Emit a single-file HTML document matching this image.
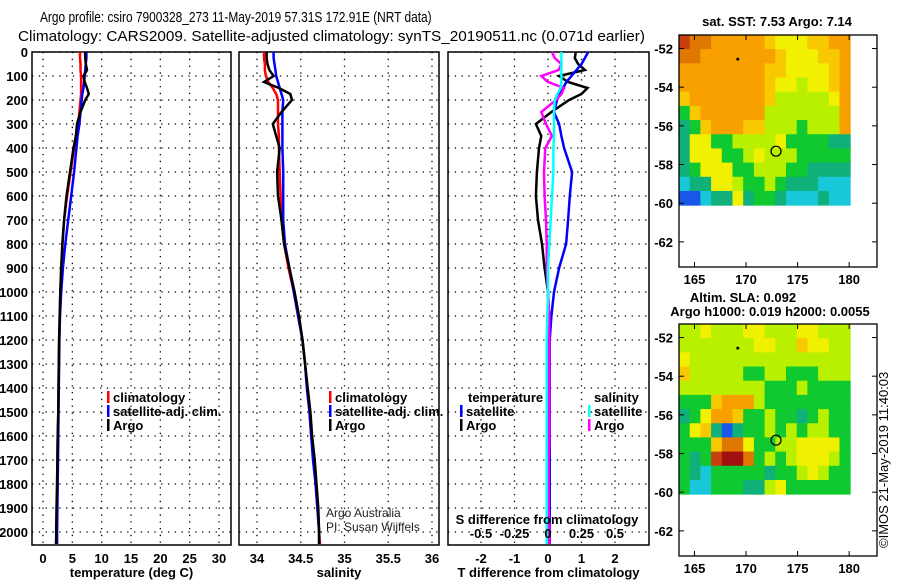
<!DOCTYPE html>
<html><head><meta charset="utf-8"><style>
html,body{margin:0;padding:0;background:#fff;}
svg{display:block;font-family:"Liberation Sans",sans-serif;}
.b{font-weight:bold;font-size:13px;}
</style></head><body>
<svg id="s" width="900" height="580" viewBox="0 0 900 580" xmlns="http://www.w3.org/2000/svg">
<text id="t1" x="0" y="0" style="font-size:15px">Argo profile: csiro 7900328_273 11-May-2019 57.31S 172.91E (NRT data)</text>
<text x="18" y="41" style="font-size:15px" textLength="627" lengthAdjust="spacingAndGlyphs">Climatology: CARS2009. Satellite-adjusted climatology: synTS_20190511.nc (0.071d earlier)</text>
<g id="g"></g>
</svg>
<script>
const depth=[0,25,50,75,100,125,150,175,200,250,300,350,400,500,600,700,800,900,1000,1100,1200,1300,1400,1500,1600,1700,1800,1900,2000,2050];
const tempClim=[6.3,6.3,6.4,6.4,6.5,6.5,6.5,6.5,6.4,6.2,6.0,5.6,5.3,4.7,4.1,3.6,3.3,3.1,2.95,2.85,2.75,2.7,2.65,2.6,2.5,2.45,2.4,2.35,2.3,2.2];
const tempSat=[7.4,7.4,7.3,7.2,7.1,7.0,6.9,6.7,6.6,6.4,6.2,5.9,5.7,5.3,4.8,4.3,3.8,3.4,3.1,2.9,2.8,2.75,2.7,2.65,2.6,2.55,2.5,2.45,2.4,2.4];
const tempArgo=[7.2,7.2,7.3,7.5,6.9,7.1,7.5,7.8,7.2,6.4,5.8,5.6,5.2,4.6,4.0,3.6,3.3,3.1,2.95,2.85,2.75,2.7,2.65,2.6,2.5,2.45,2.4,2.3,2.25,2.25];
const salClim=[34.08,34.08,34.09,34.09,34.10,34.13,34.18,34.22,34.24,34.24,34.24,34.25,34.25,34.26,34.27,34.28,34.31,34.36,34.42,34.47,34.52,34.55,34.57,34.60,34.62,34.65,34.67,34.69,34.71,34.72];
const salSat=[34.19,34.19,34.20,34.21,34.22,34.24,34.26,34.28,34.30,34.29,34.29,34.29,34.29,34.30,34.30,34.30,34.32,34.37,34.42,34.47,34.52,34.55,34.57,34.60,34.62,34.64,34.67,34.69,34.71,34.71];
const salArgo=[34.11,34.11,34.12,34.14,34.19,34.08,34.25,34.38,34.40,34.28,34.18,34.22,34.26,34.23,34.24,34.28,34.31,34.37,34.43,34.48,34.52,34.55,34.58,34.61,34.63,34.66,34.68,34.70,34.71,34.71];
const dTSat=[1.2,1.1,1.0,0.85,0.7,0.55,0.45,0.35,0.27,0.18,0.33,0.4,0.48,0.72,0.65,0.6,0.54,0.33,0.18,0.1,0.05,0.05,0.05,0.05,0.05,0.05,0.05,0.05,0.05,0.05];
const dTArgo=[0.83,0.8,0.9,1.1,0.33,0.6,1.18,1.0,0.63,0.1,-0.36,-0.2,-0.27,-0.33,-0.36,-0.3,-0.18,-0.1,0,0,0,0,0,0,0,0,0,0,0.02,0.02];
const dSSat=[0.1,0.1,0.1,0.1,0.1,0.1,0.095,0.07,0.05,0.045,0.045,0.045,0.04,0.04,0.03,0.02,0.01,0,0,-0.005,-0.01,-0.01,-0.01,-0.01,-0.01,-0.01,-0.01,-0.01,-0.01,-0.01];
const dSArgo=[0.03,0.05,0.1,0.08,-0.05,0.0,0.12,0.1,0.06,-0.05,-0.015,0.03,-0.02,-0.03,-0.025,-0.015,-0.01,-0.01,0,0.01,0.01,0.01,0.01,0.01,0.01,0.005,0.005,0.005,0.01,0.01];
const depthTicks=[0,100,200,300,400,500,600,700,800,900,1000,1100,1200,1300,1400,1500,1600,1700,1800,1900,2000];
const tempTicks=[0,5,10,15,20,25,30];
const salTicks=[34,34.5,35,35.5,36];
const salTickLabels=["34","34.5","35","35.5","36"];
const dTTicks=[-2,-1,0,1,2];
const dSTicks=[-0.5,-0.25,0,0.25,0.5];
const dSTickLabels=["-0.5","-0.25","0","0.25","0.5"];
const lonTicks=[165,170,175,180];
const latTicks=[-52,-54,-56,-58,-60,-62];
const palette=["#1858e8","#18c8d8","#10b07a","#10c830","#b8f000","#f0f000","#f8c800","#f8a000","#e07800","#c84010","#a01010"];
const sstGrid=["9887777765556677","8877777776555667","7777777766555567","7777777765545567","6777777764444457","3677777744444447","2367776644434447","2553344445333322","2555334544433333","2355533444332222","1225543343222111","0012252332111211"];
const slaGrid=["4454445544455444","4444444554465544","5444444444444444","6444443344333444","4444444433343333","3336777433333333","2357763343323433","3562023343434433","3336885334455553","3239aa8343455543","3213333323345433","3113332245333333"];
const argoLon=172.91, argoLat=-57.31;

const t1=document.getElementById('t1');
const w1=t1.getComputedTextLength()||500;
t1.setAttribute('transform','translate(40,22) scale('+(392/w1).toFixed(4)+',1)');

const NS="http://www.w3.org/2000/svg";
const G=document.getElementById('g');
function mk(tag,attrs,parent){const e=document.createElementNS(NS,tag);for(const k in attrs)e.setAttribute(k,attrs[k]);(parent||G).appendChild(e);return e;}
function txt(x,y,s,attrs,parent){const e=mk('text',Object.assign({x:x,y:y},attrs||{}),parent);e.textContent=s;return e;}
const yD=d=>52+0.24*d;
const PBOT=545;
function lin(d0,d1,r0,r1){return v=>r0+(v-d0)*(r1-r0)/(d1-d0);}
const xT=lin(0,30,43,219);
const xS=lin(34,36,257,432);
const xDT=lin(0,1,548,581.5);
const xDS=lin(0,0.5,548,615);

function panel(name,x0,x1,xs,ticks,labels,xlabel,showDepth){
  const g=mk('g',{});
  
  
  ticks.forEach(t=>{mk('line',{x1:xs(t),x2:xs(t),y1:52,y2:PBOT,stroke:'#000','stroke-width':1.3,'stroke-dasharray':'1.3 5.5'},g);});
  depthTicks.forEach(d=>{mk('line',{x1:x0,x2:x1,y1:yD(d),y2:yD(d),stroke:'#000','stroke-width':1.3,'stroke-dasharray':'1.3 5.5'},g);});
  const r=mk('rect',{x:x0,y:52,width:x1-x0,height:PBOT-52,fill:'none',stroke:'#000','stroke-width':1.5},g);
  
  
  ticks.forEach((t,i)=>{const e=txt(xs(t),563,labels[i],{class:'b','text-anchor':'middle'},g);
    
    });
  if(xlabel){const e=txt((x0+x1)/2,577,xlabel,{class:'b','text-anchor':'middle'},g);
    
    }
  if(showDepth){depthTicks.forEach(d=>{const e=txt(28,yD(d)+5,String(d),{class:'b','text-anchor':'end'},g);
    
    });}
  return g;
}
function series(name,vals,xs,color,w){
  const pts=vals.map((v,i)=>xs(v).toFixed(1)+','+yD(depth[i]).toFixed(1)).join(' ');
  const p=mk('polyline',{points:pts,fill:'none',stroke:color,'stroke-width':w||2.5,'stroke-linejoin':'miter'});
  
  
}
function legendEntry(x,y,color,label,name){
  const g=mk('g',{});
  
  
  mk('rect',{x:x,y:y-11,width:2.5,height:12,fill:color},g);
  txt(x+6,y,label,{class:'b'},g);
}
panel('temperature-panel',32,231,xT,tempTicks,tempTicks.map(String),'temperature (deg C)',true);
series('temp-climatology-line',tempClim,xT,'#f00');
series('temp-satellite-line',tempSat,xT,'#00f');
series('temp-argo-line',tempArgo,xT,'#000');
legendEntry(107,402,'#f00','climatology','legend-climatology');
legendEntry(107,416,'#00f','satellite-adj. clim.','legend-satellite-adj');
legendEntry(107,430,'#000','Argo','legend-argo');
panel('salinity-panel',239,439,xS,salTicks,salTickLabels,'salinity',false);
series('sal-climatology-line',salClim,xS,'#f00');
series('sal-satellite-line',salSat,xS,'#00f');
series('sal-argo-line',salArgo,xS,'#000');
legendEntry(329,402,'#f00','climatology','legend-climatology-2');
legendEntry(329,416,'#00f','satellite-adj. clim.','legend-satellite-adj-2');
legendEntry(329,430,'#000','Argo','legend-argo-2');
let e=txt(326,517,'Argo Australia',{'font-size':12,fill:'#222'});


e=txt(326,531,'PI: Susan Wijffels',{'font-size':12,fill:'#222'});


panel('difference-panel',448,649,xDT,dTTicks,dTTicks.map(String),'T difference from climatology',false);
series('dT-argo-line',dTArgo,xDT,'#000');
series('dT-satellite-line',dTSat,xDT,'#00f');
series('dS-argo-line',dSArgo,xDS,'#f0f');
series('dS-satellite-line',dSSat,xDS,'#0ff');
e=txt(468,402,'temperature',{class:'b'});


legendEntry(460,416,'#00f','satellite','legend-t-satellite');
legendEntry(460,430,'#000','Argo','legend-t-argo');
e=txt(594,402,'salinity',{class:'b'});


legendEntry(588,416,'#0ff','satellite','legend-s-satellite');
legendEntry(588,430,'#f0f','Argo','legend-s-argo');
e=txt(547,524,'S difference from climatology',{class:'b','text-anchor':'middle'});


dSTicks.forEach((t,i)=>{const l=txt(xDS(t),538,dSTickLabels[i],{class:'b','text-anchor':'middle'});
  
  });

function map(name,top,grid){
  const g=mk('g',{});
  
  
  const lx=lin(163.5,182.7,679,877);
  const ly=lin(-51.3,-63.3,top,top+232);
  const rows=grid.length, cols=grid[0].length;
  const lon0=163.5, lon1=180.1, lat0=-51.3, lat1=-60.1;
  const cw=(lx(lon1)-lx(lon0))/cols, ch=(ly(lat1)-ly(lat0))/rows;
  grid.forEach((row,r)=>{for(let c=0;c<cols;c++){
    const lv=parseInt(row[c],16);
    const cell=mk('rect',{x:(lx(lon0)+c*cw).toFixed(2),y:(ly(lat0)+r*ch).toFixed(2),width:(cw+0.5).toFixed(2),height:(ch+0.5).toFixed(2),fill:palette[lv]},g);
    
    
  }});
  const fr=mk('rect',{x:679,y:top,width:198,height:232,fill:'none',stroke:'#000','stroke-width':1.3},g);
  
  
  lonTicks.forEach(t=>{mk('line',{x1:lx(t),x2:lx(t),y1:top,y2:top+5,stroke:'#000'},g);mk('line',{x1:lx(t),x2:lx(t),y1:top+232,y2:top+227,stroke:'#000'},g);
    const l=txt(lx(t),top+249,String(t),{class:'b','text-anchor':'middle','font-size':14});
    
    });
  latTicks.forEach(t=>{mk('line',{x1:679,x2:684,y1:ly(t),y2:ly(t),stroke:'#000'},g);mk('line',{x1:877,x2:872,y1:ly(t),y2:ly(t),stroke:'#000'},g);
    const l=txt(673,ly(t)+5,String(t),{class:'b','text-anchor':'end','font-size':14});
    
    });
  const c=mk('circle',{cx:lx(argoLon),cy:ly(argoLat),r:5,fill:'none',stroke:'#000','stroke-width':1.2},g);
  
  
  mk('circle',{cx:lx(169.2),cy:ly(-52.55),r:1.5,fill:'#000'},g);
}
map('sst-map',35,sstGrid);
e=txt(777,26,'sat. SST: 7.53 Argo: 7.14',{class:'b','text-anchor':'middle'});


map('sla-map',324,slaGrid);
e=txt(743,302,'Altim. SLA: 0.092',{class:'b','text-anchor':'middle'});


e=txt(770,316,'Argo h1000: 0.019 h2000: 0.0055',{class:'b','text-anchor':'middle'});


e=txt(0,0,'©IMOS 21-May-2019 11:40:03',{'font-size':13,transform:'translate(888,548) rotate(-90)'});


</script>
</body></html>
